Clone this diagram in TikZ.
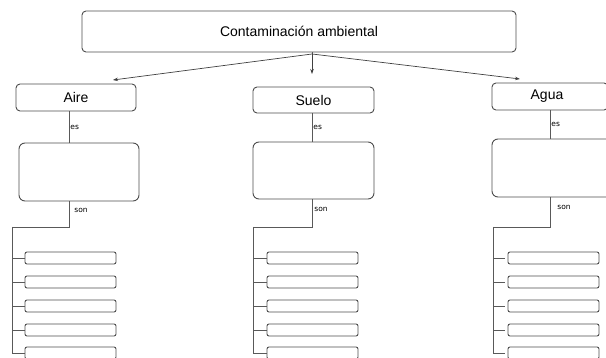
\documentclass[tikz,border=0pt]{standalone}
\usepackage{fontspec}
\setmainfont{Liberation Sans}
\newfontfamily\smallfont{DejaVu Sans}
\usetikzlibrary{arrows.meta,calc}
\begin{document}
\begin{tikzpicture}[x=1pt,y=-1pt,
  box/.style={draw=black!70,line width=0.9pt,rounded corners=4pt,inner sep=0pt,align=center},
  head/.style={box,font=\fontsize{14}{16}\selectfont},
  midbox/.style={box,minimum width=120pt,minimum height=58pt,rounded corners=6pt},
  leaf/.style={box,minimum width=91pt,minimum height=12pt,rounded corners=2pt},
  conn/.style={draw=black!65,line width=0.8pt},
  arr/.style={draw=black!75,line width=0.7pt,-{Stealth[length=5pt,width=3.5pt]}},
  lbl/.style={font=\smallfont\fontsize{7.5}{9}\selectfont,anchor=west,inner sep=1pt}]
\useasboundingbox (0,0) rectangle (606,358);
\clip (0,0) rectangle (606,358);
% top
\node[head,minimum width=434pt,minimum height=41pt] (top) at (299,31.5) {Contaminación ambiental};
\node[head,minimum width=120pt,minimum height=27pt] (aire) at (76,97.5) {Aire};
\node[head,minimum width=121pt,minimum height=26pt] (suelo) at (313.5,100) {Suelo};
\node[head,minimum width=116pt,minimum height=27pt,text width=110pt,align=center] (agua) at (550,96.5) {\hspace*{-6pt}Agua};
% arrows
\coordinate (hub) at (312,54);
\coordinate (tipA) at (113,80);
\coordinate (tipS) at (312,74);
\coordinate (tipG) at (520,79);
\draw[conn] (top.south -| hub) -- (hub);
\draw[arr] (hub) -- (tipA);
\draw[arr] (hub) -- (tipS);
\draw[arr] (hub) -- (tipG);
% middle boxes
\node[midbox] (ma) at (79,172) {};
\node[midbox,minimum width=121pt,minimum height=57pt] (ms) at (313.5,170.5) {};
\node[midbox] (mg) at (552,168) {};
% columns
\foreach \h/\m/\lx/\tx/\bl/\br/\gap/\sx in {aire/ma/69/12/25/116/0/4, suelo/ms/312/253/267/358/0/1, agua/mg/550/493/508/599/3/6}{
  \coordinate (\h-x) at (\lx,0);
  \draw[conn] (\h.south -| \h-x) -- node[lbl,pos=0.5] {es} (\m.north -| \h-x);
  \coordinate (\h-t) at (\tx,227);
  \draw[conn] (\m.south -| \h-x) -- node[lbl,pos=0.35,xshift=\sx pt] {son} (\h-t -| \h-x) -- (\h-t);
  \foreach \i/\y in {1/258,2/282,3/306,4/330,5/353}{
    \node[leaf] (\h-l\i) at ({(\bl+\br)/2},\y) {};
  }
  \draw[conn] (\h-t) |- ([xshift=-\gap pt]\h-l5.west);
  \foreach \i in {1,2,3,4}{
    \draw[conn] (\h-l\i.west -| \h-t) -- ([xshift=-\gap pt]\h-l\i.west);
  }
}
\end{tikzpicture}
\end{document}
